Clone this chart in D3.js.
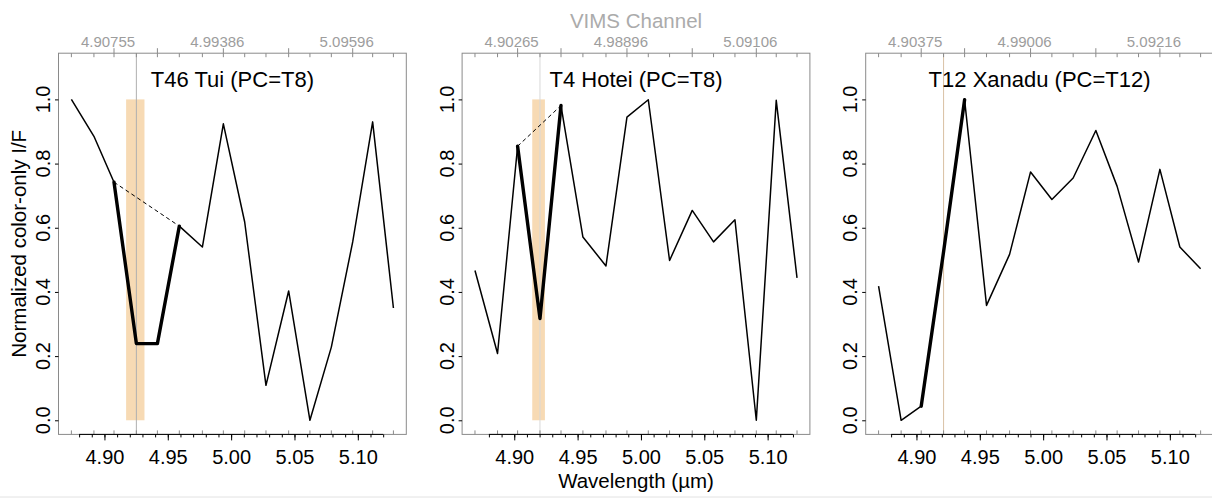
<!DOCTYPE html>
<html>
<head>
<meta charset="utf-8">
<script src="https://cdn.jsdelivr.net/npm/d3@7"></script>
<style>
  body { margin: 0; background: #fff; }
  svg { display: block; }
  text { font-family: "Liberation Sans", Arial, Helvetica, sans-serif; }
</style>
</head>
<body>
<svg id="fig" width="1212" height="500"></svg>
<script>
// ---- Data: VIMS channel wavelengths (µm) and normalized color-only I/F ----
const wavelengthsTui = [4.8739, 4.8917, 4.90755, 4.9252, 4.9418, 4.9591, 4.9773, 4.99386,
                        5.0107, 5.0275, 5.0454, 5.0622, 5.0791, 5.09596, 5.1117, 5.1281];
const valuesTui = [1.000, 0.885, 0.742, 0.239, 0.239, 0.605, 0.540, 0.924,
                   0.618, 0.109, 0.403, 0.000, 0.228, 0.556, 0.930, 0.350];

const wavelengthsHotei = [4.8690, 4.8868, 4.90265, 4.9203, 4.9369, 4.9542, 4.9724, 4.98896,
                          5.0058, 5.0226, 5.0405, 5.0573, 5.0742, 5.09106, 5.1068, 5.1232];
const valuesHotei = [0.467, 0.208, 0.854, 0.317, 0.981, 0.571, 0.481, 0.945,
                     0.999, 0.498, 0.654, 0.556, 0.625, 0.000, 0.997, 0.444];

const wavelengthsXanadu = [4.8701, 4.8879, 4.90375, 4.9214, 4.9380, 4.9553, 4.9735, 4.99006,
                           5.0069, 5.0237, 5.0416, 5.0584, 5.0753, 5.09216, 5.1079, 5.1243];
const valuesXanadu = [0.418, 0.000, 0.044, 0.525, 0.999, 0.358, 0.517, 0.774,
                      0.688, 0.755, 0.903, 0.729, 0.493, 0.782, 0.540, 0.472];

const titles = ["T46 Tui (PC=T8)", "T4 Hotei (PC=T8)", "T12 Xanadu (PC=T12)"];

// absorption feature: first/last channel index (band shoulders) and the band channel
const featureTui = [2, 5];
const featureHotei = [2, 4];
const featureXanadu = [2, 4];
const bandChannel = 3;

// shaded band (µm) around the absorption channel
const bandTui = [4.9171, 4.9316];
const bandHotei = [4.9142, 4.9242];
const bandXanadu = [4.9213, 4.9215];

// top (channel) axis: outward ticks and their labels
const topTickChannels = [2, 4, 7, 10, 13];
const topLabelsTui = ["4.90755", "", "4.99386", "", "5.09596"];
const topLabelsHotei = ["4.90265", "", "4.98896", "", "5.09106"];
const topLabelsXanadu = ["4.90375", "", "4.99006", "", "5.09216"];

const xMajorTicks = [4.90, 4.95, 5.00, 5.05, 5.10];
const xMinorTicks = d3.range(488, 513).map(d => d / 100);
const yTicks = [0.0, 0.2, 0.4, 0.6, 0.8, 1.0];

const panels = [
  { title: titles[0], wl: wavelengthsTui, v: valuesTui, feature: featureTui, band: bandTui, top: topLabelsTui, lineColor: "#b0b0b0" },
  { title: titles[1], wl: wavelengthsHotei, v: valuesHotei, feature: featureHotei, band: bandHotei, top: topLabelsHotei, lineColor: "#d8d8d8" },
  { title: titles[2], wl: wavelengthsXanadu, v: valuesXanadu, feature: featureXanadu, band: bandXanadu, top: topLabelsXanadu, lineColor: "#d9c2a6" }
];

// ---- Layout ----
const panelW = 403.6;
const plotLeft = 58.5, plotTop = 53.2;
const plotW = 347.8, plotH = 381.2;
const boxColor = "#8a8a8a";
const bandColor = "#f7dab4";

const svg = d3.select("#fig");

panels.forEach((p, i) => {
  const x0 = i * panelW + plotLeft;
  const ext = d3.extent(p.wl);
  const pad = (ext[1] - ext[0]) * 0.04;
  const x = d3.scaleLinear().domain([ext[0] - pad, ext[1] + pad]).range([x0, x0 + plotW]);
  const y = d3.scaleLinear().domain([-0.044, 1.144]).range([plotTop + plotH, plotTop]);
  const g = svg.append("g");
  const yBottom = plotTop + plotH;

  // shaded band
  g.append("rect")
    .attr("x", x(p.band[0]))
    .attr("width", Math.max(0.6, x(p.band[1]) - x(p.band[0])))
    .attr("y", y(1))
    .attr("height", y(0) - y(1))
    .attr("fill", bandColor);

  // vertical marker at the band channel
  g.append("line")
    .attr("x1", x(p.wl[bandChannel])).attr("x2", x(p.wl[bandChannel]))
    .attr("y1", plotTop).attr("y2", yBottom)
    .attr("stroke", p.lineColor).attr("stroke-width", 1);

  // plot box
  g.append("rect")
    .attr("x", x0).attr("y", plotTop)
    .attr("width", plotW).attr("height", plotH)
    .attr("fill", "none").attr("stroke", boxColor).attr("stroke-width", 1);

  // channel ticks (inward) on top and bottom of the box
  p.wl.forEach(w => {
    g.append("line").attr("x1", x(w)).attr("x2", x(w))
      .attr("y1", plotTop).attr("y2", plotTop + 4)
      .attr("stroke", boxColor).attr("stroke-width", 1);
    g.append("line").attr("x1", x(w)).attr("x2", x(w))
      .attr("y1", yBottom).attr("y2", yBottom - 4)
      .attr("stroke", boxColor).attr("stroke-width", 1);
  });

  // top channel axis: outward ticks + labels
  topTickChannels.forEach((c, k) => {
    const xc = x(p.wl[c]);
    g.append("line").attr("x1", xc).attr("x2", xc)
      .attr("y1", plotTop).attr("y2", plotTop - 5)
      .attr("stroke", boxColor).attr("stroke-width", 1);
    if (p.top[k]) {
      g.append("text")
        .attr("x", xc - 6).attr("y", 46.5)
        .attr("text-anchor", "middle")
        .attr("font-size", 15)
        .attr("fill", "#9d9d9d")
        .text(p.top[k]);
    }
  });

  // spectrum
  const line = d3.line().x((d, k) => x(p.wl[k])).y(d => y(d));
  g.append("path").datum(p.v)
    .attr("d", line)
    .attr("fill", "none").attr("stroke", "#000").attr("stroke-width", 1.5)
    .attr("stroke-linejoin", "round");

  // absorption feature (thick) and continuum (dashed)
  const [a, b] = p.feature;
  const featIdx = d3.range(a, b + 1);
  g.append("path").datum(featIdx)
    .attr("d", d3.line().x(k => x(p.wl[k])).y(k => y(p.v[k])))
    .attr("fill", "none").attr("stroke", "#000").attr("stroke-width", 3.4)
    .attr("stroke-linejoin", "round").attr("stroke-linecap", "round");
  g.append("path").datum([a, b])
    .attr("d", d3.line().x(k => x(p.wl[k])).y(k => y(p.v[k])))
    .attr("fill", "none").attr("stroke", "#000").attr("stroke-width", 1)
    .attr("stroke-dasharray", "4,3");

  // bottom wavelength axis
  const axB = g.append("g").attr("transform", `translate(0,${yBottom})`);
  axB.append("line")
    .attr("x1", x(xMinorTicks[0])).attr("x2", x(xMinorTicks[xMinorTicks.length - 1]))
    .attr("stroke", "#000").attr("stroke-width", 1);
  const minorAxis = axB.append("g")
    .call(d3.axisBottom(x).tickValues(xMinorTicks).tickSize(3).tickFormat(""));
  const majorAxis = axB.append("g")
    .call(d3.axisBottom(x).tickValues(xMajorTicks).tickSize(6).tickPadding(9).tickFormat(d3.format(".2f")));
  [minorAxis, majorAxis].forEach(ax => {
    ax.select(".domain").remove();
    ax.selectAll(".tick line").attr("stroke", "#000");
  });
  majorAxis.selectAll("text")
    .attr("font-size", 20).attr("fill", "#000")
    .attr("font-family", "Liberation Sans, Arial, sans-serif");

  // left axis
  const axL = g.append("g").attr("transform", `translate(${x0},0)`)
    .call(d3.axisLeft(y).tickValues(yTicks).tickSize(3.5).tickFormat(""));
  axL.select(".domain").remove();
  axL.selectAll(".tick line").attr("stroke", "#000");
  yTicks.forEach(t => {
    g.append("text")
      .attr("transform", `translate(${x0 - 8.5},${y(t)}) rotate(-90)`)
      .attr("text-anchor", "middle")
      .attr("font-size", 20)
      .attr("fill", "#000")
      .text(d3.format(".1f")(t));
  });

  // panel title
  g.append("text")
    .attr("x", x0 + plotW / 2).attr("y", 87.3)
    .attr("text-anchor", "middle")
    .attr("font-size", 22)
    .attr("fill", "#000")
    .text(p.title);
});

// shared axis titles
const midX = panelW + plotLeft + plotW / 2;
svg.append("text")
  .attr("x", midX).attr("y", 28.3)
  .attr("text-anchor", "middle").attr("font-size", 20.5).attr("fill", "#ababab")
  .text("VIMS Channel");
svg.append("text")
  .attr("x", midX).attr("y", 488)
  .attr("text-anchor", "middle").attr("font-size", 20.5).attr("fill", "#000")
  .text("Wavelength (\u00b5m)");
svg.append("text")
  .attr("transform", `translate(26,${plotTop + plotH / 2}) rotate(-90)`)
  .attr("text-anchor", "middle").attr("font-size", 20.5).attr("fill", "#000")
  .text("Normalized color-only I/F");

// bottom frame rule
svg.append("line")
  .attr("x1", 0).attr("x2", 1212).attr("y1", 497).attr("y2", 497)
  .attr("stroke", "#e2e2e2").attr("stroke-width", 1);
</script>
</body>
</html>
